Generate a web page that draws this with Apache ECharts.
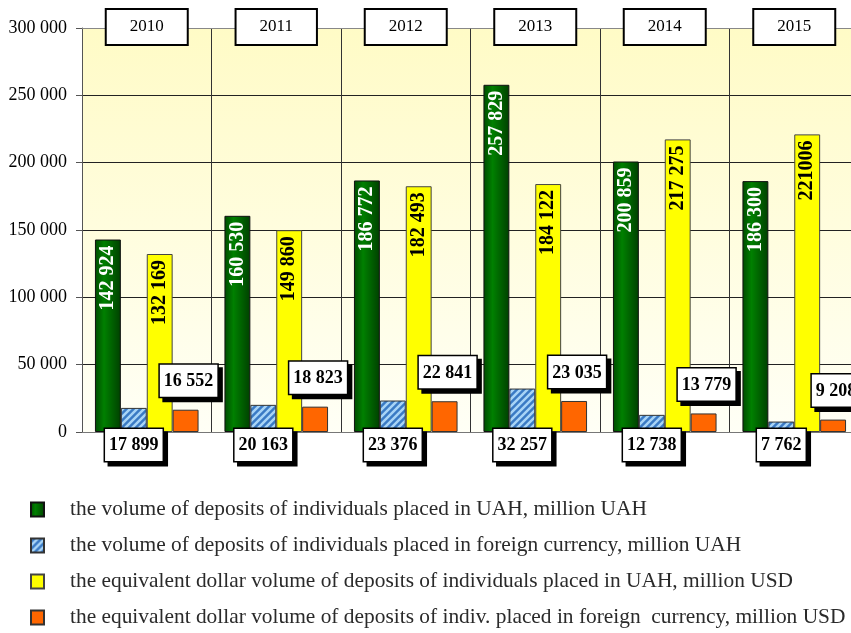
<!DOCTYPE html>
<html>
<head>
<meta charset="utf-8">
<script src="https://cdn.jsdelivr.net/npm/echarts@6/dist/echarts.min.js"></script>
<style>
  html, body { margin: 0; padding: 0; background: #fff; overflow: hidden; }
  /* the plot runs a little past the right edge of the page, as in the source */
  #chart { width: 860px; height: 633px; }
</style>
</head>
<body>
<div id="chart"></div>
<script>
var years = ["2010", "2011", "2012", "2013", "2014", "2015"];
var uahDeposits = [142924, 160530, 186772, 257829, 200859, 186300];
var fxDeposits = [17899, 20163, 23376, 32257, 12738, 7762];
var uahInUsd = [132169, 149860, 182493, 184122, 217275, 221006];
var fxInUsd = [16552, 18823, 22841, 23035, 13779, 9208];
var seriesNames = [
  "the volume of deposits of individuals placed in UAH, million UAH",
  "the volume of deposits of individuals placed in foreign currency, million UAH",
  "the equivalent dollar volume of deposits of individuals placed in UAH, million USD",
  "the equivalent dollar volume of deposits of indiv. placed in foreign  currency, million USD"
];

var serif = "Liberation Serif";

// space as thousands separator, like "142 924"
function fmt(v) {
  return String(v).replace(/\B(?=(\d{3})+(?!\d))/g, " ");
}

// hatched fill for the foreign currency bars
function hatch() {
  var c = document.createElement("canvas");
  c.width = 7; c.height = 7;
  var g = c.getContext("2d");
  g.fillStyle = "#3a7ac4";
  g.fillRect(0, 0, 7, 7);
  g.strokeStyle = "#a8d4f6";
  g.lineWidth = 2.5;
  g.beginPath();
  g.moveTo(-1, 8); g.lineTo(8, -1);
  g.moveTo(-5, 5); g.lineTo(5, -5);
  g.moveTo(2, 12); g.lineTo(12, 2);
  g.stroke();
  return c;
}

var boxLabel = {
  show: true,
  fontFamily: serif,
  fontWeight: "bold",
  fontSize: 18,
  color: "#000",
  backgroundColor: "#fff",
  borderColor: "#000",
  borderWidth: 1.5,
  padding: [8, 4, 6, 4],
  shadowColor: "#000",
  shadowOffsetX: 4,
  shadowOffsetY: 4,
  shadowBlur: 0,
  formatter: function (p) { return fmt(p.value); }
};

var myChart = echarts.init(document.getElementById("chart"));
var option = {
  animation: false,
  grid: {
    left: 82,
    top: 28,
    right: 1,
    height: 404,
    show: true,
    borderWidth: 0,
    backgroundColor: new echarts.graphic.LinearGradient(0, 0, 0, 1, [
      { offset: 0, color: "#fffbc6" },
      { offset: 1, color: "#fffff6" }
    ])
  },
  legend: {
    orient: "vertical",
    left: 30,
    top: 499,
    padding: 0,
    itemWidth: 13,
    itemHeight: 14,
    itemGap: 15,
    icon: "rect",
    textStyle: { fontFamily: serif, fontSize: 21.4, color: "#2a2a2a", padding: [0, 0, 0, 21] },
    data: seriesNames
  },
  xAxis: [
    {
      type: "category",
      data: years,
      axisLine: { lineStyle: { color: "#777" } },
      axisTick: { show: false },
      axisLabel: { show: false },
      splitLine: { show: true, lineStyle: { color: "#333" } }
    },
    {
      type: "category",
      data: years,
      position: "top",
      axisLine: { lineStyle: { color: "#888" } },
      axisTick: { show: false },
      axisLabel: {
        fontFamily: serif,
        fontSize: 17,
        color: "#000",
        backgroundColor: "#fff",
        borderColor: "#000",
        borderWidth: 2,
        padding: [9, 23, 8, 23],
        verticalAlign: "middle",
        margin: 1
      }
    }
  ],
  yAxis: {
    type: "value",
    min: 0,
    max: 300000,
    interval: 50000,
    axisLine: { show: true, lineStyle: { color: "#555" } },
    axisTick: { show: true, length: 6, lineStyle: { color: "#555" } },
    axisLabel: {
      fontFamily: serif,
      fontSize: 18,
      color: "#000",
      margin: 15,
      formatter: fmt
    },
    splitLine: { lineStyle: { color: "#222" } }
  },
  series: [
    {
      name: seriesNames[0],
      type: "bar",
      data: uahDeposits,
      barGap: "0%",
      barCategoryGap: "20%",
      itemStyle: {
        borderColor: "#111",
        borderWidth: 1,
        color: new echarts.graphic.LinearGradient(0, 0, 1, 0, [
          { offset: 0, color: "#004a00" },
          { offset: 0.35, color: "#008000" },
          { offset: 1, color: "#004000" }
        ])
      },
      label: {
        show: true,
        position: "insideTop",
        rotate: 90,
        align: "right",
        verticalAlign: "middle",
        distance: 6,
        fontFamily: serif,
        fontWeight: "bold",
        fontSize: 20,
        color: "#fff",
        formatter: function (p) { return fmt(p.value); }
      }
    },
    {
      name: seriesNames[1],
      type: "bar",
      data: fxDeposits,
      itemStyle: {
        borderColor: "#333",
        borderWidth: 1,
        color: { image: hatch(), repeat: "repeat" }
      },
      label: Object.assign({}, boxLabel, {
        position: ["50%", "100%"],
        align: "center",
        verticalAlign: "middle",
        offset: [0, 13]
      })
    },
    {
      name: seriesNames[2],
      type: "bar",
      data: uahInUsd,
      itemStyle: { color: "#ffff00", borderColor: "#444", borderWidth: 1 },
      label: {
        show: true,
        position: "insideTop",
        rotate: 90,
        align: "right",
        verticalAlign: "middle",
        distance: 6,
        fontFamily: serif,
        fontWeight: "bold",
        fontSize: 20,
        color: "#000",
        // the 2015 figure is printed without a separator in the source
        formatter: function (p) { return p.dataIndex === 5 ? String(p.value) : fmt(p.value); }
      }
    },
    {
      name: seriesNames[3],
      type: "bar",
      data: fxInUsd,
      itemStyle: { color: "#ff6600", borderColor: "#333", borderWidth: 1 },
      label: Object.assign({}, boxLabel, {
        position: "top",
        distance: 13,
        offset: [3, 0]
      })
    }
  ]
};
myChart.setOption(option);
</script>
</body>
</html>
